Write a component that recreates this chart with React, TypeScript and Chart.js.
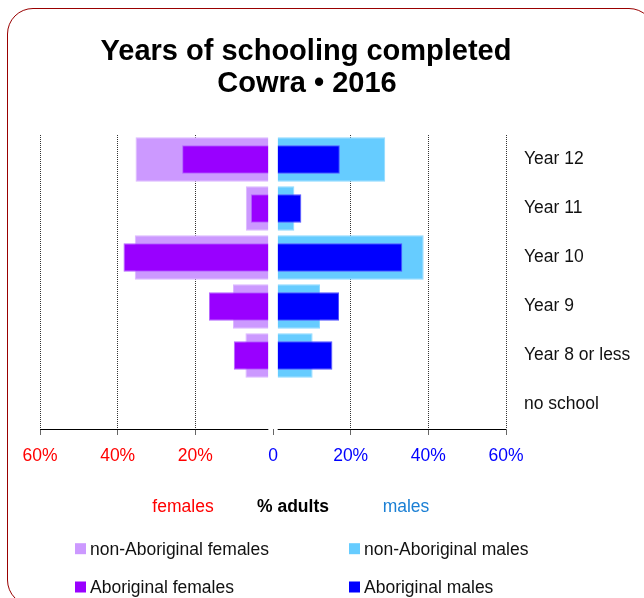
import React, { useEffect, useRef } from "react";
import { Chart, registerables } from "chart.js";

Chart.register(...registerables);

// ---- data ----
const categories = ["Year 12", "Year 11", "Year 10", "Year 9", "Year 8 or less", "no school"];
const nonAboriginalFemales = [35.4, 7.0, 35.6, 10.3, 7.1, 0];
const aboriginalFemales = [23.4, 5.7, 38.5, 16.5, 10.1, 0];
const nonAboriginalMales = [28.9, 5.5, 38.8, 12.1, 10.2, 0];
const aboriginalMales = [17.2, 7.3, 33.3, 17.0, 15.3, 0];
const xTickValues = [-60, -40, -20, 0, 20, 40, 60];
const titleLines = ["Years of schooling completed", "Cowra \u2022 2016"];
const axisCaptions = ["females", "% adults", "males"];
const seriesLabels = [
  "non-Aboriginal females",
  "non-Aboriginal males",
  "Aboriginal females",
  "Aboriginal males",
];

const FONT = '"Liberation Sans", Arial, Helvetica, sans-serif';
const GAP = 1.2; // visual gap either side of zero (in % units)

function toBars(values: number[], side: number) {
  return values.map((v) => (v > GAP ? [side * GAP, side * v] : null));
}

const extrasPlugin = {
  id: "extras",
  afterDatasetsDraw(chart: any) {
    const { ctx, chartArea, scales } = chart;
    const x = scales.x;
    const y0 = Math.round(chartArea.bottom) + 0.5;
    ctx.save();
    ctx.strokeStyle = "#000";
    ctx.lineWidth = 1;
    ctx.setLineDash([]);
    ctx.beginPath();
    ctx.moveTo(chartArea.left, y0);
    ctx.lineTo(x.getPixelForValue(-GAP), y0);
    ctx.moveTo(x.getPixelForValue(GAP), y0);
    ctx.lineTo(chartArea.right, y0);
    ctx.stroke();
    ctx.restore();
  },
  afterDraw(chart: any) {
    const { ctx } = chart;
    ctx.save();
    // title
    ctx.fillStyle = "#000";
    ctx.textAlign = "center";
    ctx.textBaseline = "alphabetic";
    ctx.font = `bold 29px ${FONT}`;
    ctx.fillText(titleLines[0], 306, 59.5);
    ctx.fillText(titleLines[1], 307, 92);

    // axis captions
    ctx.font = `17.5px ${FONT}`;
    ctx.fillStyle = "#ff0000";
    ctx.fillText(axisCaptions[0], 183, 512);
    ctx.font = `bold 17.5px ${FONT}`;
    ctx.fillStyle = "#000";
    ctx.fillText(axisCaptions[1], 293, 512);
    ctx.font = `17.5px ${FONT}`;
    ctx.fillStyle = "#1a7fd4";
    ctx.fillText(axisCaptions[2], 406, 512);

    // legend (2 x 2)
    const colX = [75, 349];
    const rowY = [548.7, 587];
    ctx.textAlign = "left";
    ctx.font = `17.5px ${FONT}`;
    chart.data.datasets.forEach((ds: any, i: number) => {
      const cx = colX[i % 2];
      const cy = rowY[Math.floor(i / 2)];
      ctx.fillStyle = ds.backgroundColor;
      ctx.fillRect(cx, cy - 5.5, 11, 11);
      ctx.fillStyle = "#111";
      ctx.fillText(ds.label, cx + 15, cy + 6.3);
    });
    ctx.restore();
  },
};

export default function App() {
  const canvasRef = useRef<HTMLCanvasElement | null>(null);

  useEffect(() => {
    if (!canvasRef.current) return;
    const chart = new Chart(canvasRef.current, {
      type: "bar",
      data: {
        labels: categories,
        datasets: [
          {
            label: seriesLabels[0],
            data: toBars(nonAboriginalFemales, -1) as any,
            backgroundColor: "#cc99ff",
            borderColor: "#dcb8ff",
            borderWidth: 1,
            barPercentage: 0.91,
            categoryPercentage: 1,
            grouped: false,
            order: 2,
          },
          {
            label: seriesLabels[1],
            data: toBars(nonAboriginalMales, 1) as any,
            backgroundColor: "#66ccff",
            borderColor: "#8fdaff",
            borderWidth: 1,
            barPercentage: 0.91,
            categoryPercentage: 1,
            grouped: false,
            order: 2,
          },
          {
            label: seriesLabels[2],
            data: toBars(aboriginalFemales, -1) as any,
            backgroundColor: "#9900ff",
            borderColor: "#b366ff",
            borderWidth: 1,
            barPercentage: 0.585,
            categoryPercentage: 1,
            grouped: false,
            order: 1,
          },
          {
            label: seriesLabels[3],
            data: toBars(aboriginalMales, 1) as any,
            backgroundColor: "#0000ff",
            borderColor: "#5555ff",
            borderWidth: 1,
            barPercentage: 0.585,
            categoryPercentage: 1,
            grouped: false,
            order: 1,
          },
        ],
      },
      options: {
        indexAxis: "y",
        responsive: false,
        animation: false,
        events: [],
        layout: { padding: { top: 135, left: 40, right: 0, bottom: 0 } },
        plugins: {
          legend: { display: false },
          title: { display: false },
          tooltip: { enabled: false },
        },
        scales: {
          x: {
            type: "linear",
            min: -60,
            max: 60,
            afterBuildTicks: (s: any) => {
              s.ticks = xTickValues.map((v) => ({ value: v }));
            },
            afterFit: (s: any) => {
              s.height = 169;
            },
            grid: {
              color: (c: any) =>
                c.tick && c.tick.value === 0 ? "rgba(0,0,0,0)" : "#333",
              lineWidth: 1,
              drawTicks: true,
              tickLength: 6,
              tickColor: "#666",
              tickBorderDash: [],
            },
            border: { display: false, dash: [1, 1] },
            ticks: {
              color: (c: any) => (c.tick && c.tick.value < 0 ? "#ff0000" : "#0000ff"),
              font: { family: FONT, size: 17.5 },
              padding: 11,
              maxRotation: 0,
              autoSkip: false,
              callback: (v: any) => (Number(v) === 0 ? "0" : Math.abs(Number(v)) + "%"),
            },
          },
          y: {
            position: "right",
            grid: { display: false, drawTicks: false },
            border: { display: false },
            ticks: {
              color: "#111",
              font: { family: FONT, size: 17.5 },
              padding: 18,
              crossAlign: "near",
            },
            afterFit: (s: any) => {
              s.width = 138;
            },
          },
        },
      } as any,
      plugins: [extrasPlugin],
    });
    return () => chart.destroy();
  }, []);

  return (
    <div
      style={{
        position: "fixed",
        left: 0,
        top: 0,
        width: 644,
        height: 598,
        overflow: "hidden",
        background: "#fff",
      }}
    >
      <div
        style={{
          position: "absolute",
          left: 7,
          top: 8,
          width: 648,
          height: 598,
          boxSizing: "border-box",
          border: "1px solid #990000",
          borderRadius: 26,
        }}
      />
      <canvas
        ref={canvasRef}
        width={644}
        height={598}
        style={{ position: "absolute", left: 0, top: 0 }}
      />
    </div>
  );
}
